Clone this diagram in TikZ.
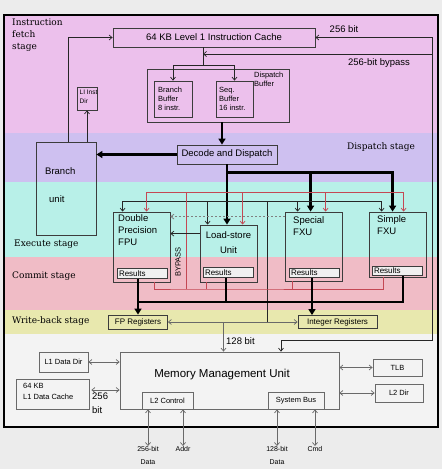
\documentclass[tikz,border=0pt]{standalone}
\usepackage{fontspec}
\setmainfont{Liberation Sans}
\newfontfamily\stagefont{DejaVu Serif}
\usetikzlibrary{arrows.meta, calc, positioning}

\definecolor{pagebg}{RGB}{236,236,236}
\definecolor{fetchbg}{RGB}{236,192,236}
\definecolor{dispbg}{RGB}{206,192,240}
\definecolor{execbg}{RGB}{184,240,232}
\definecolor{commitbg}{RGB}{240,188,198}
\definecolor{wbbg}{RGB}{232,232,174}
\definecolor{membg}{RGB}{243,243,243}
\definecolor{fwdred}{RGB}{196,72,84}
\definecolor{boxline}{RGB}{60,60,60}
\definecolor{memgray}{RGB}{105,105,105}

\newcommand{\bigtxt}{\fontsize{9.5}{12}\selectfont}
\newcommand{\smltxt}{\fontsize{7.5}{9}\selectfont}
\newcommand{\regtxt}{\fontsize{8}{10}\selectfont}
\newcommand{\tinytxt}{\fontsize{7}{13}\selectfont}
\newcommand{\stagetxt}{\stagefont\fontsize{9}{12}\selectfont}

\tikzset{
  box/.style={draw=boxline, line width=0.8pt, inner sep=0pt},
  resbox/.style={box, fill=white!94!black, font=\regtxt, align=left,
    text width=46pt, inner xsep=2pt, minimum height=9.5pt},
  txt/.style={inner sep=0pt, align=left},
  stagelbl/.style={inner sep=0pt, align=left, font=\stagetxt},
  wire/.style={draw=black!85, line width=0.7pt},
  memwire/.style={draw=memgray, line width=0.7pt},
  fwd/.style={draw=fwdred, line width=0.7pt},
  bypassline/.style={draw=gray, line width=0.8pt, dash pattern=on 2pt off 2pt},
  bigline/.style={line width=2.3pt},
  bigarrow/.style={line width=2.3pt, -{Triangle[length=6pt,width=7pt]}}
}

\begin{document}
\begin{tikzpicture}[x=1pt, y=-1pt, >={Straight Barb[length=3pt,width=5pt]}]
	\useasboundingbox[fill=pagebg] (0,0) rectangle (442,469);

	% Stage bands
	\fill[fetchbg] (4,15) rectangle (438,133);
	\fill[dispbg] (4,133) rectangle (438,182);
	\fill[execbg] (4,182) rectangle (438,257);
	\fill[commitbg] (4,257) rectangle (438,310);
	\fill[wbbg] (4,310) rectangle (438,334);
	\fill[membg] (4,334) rectangle (438,427);
	\draw[line width=1.6pt] (4,15) rectangle (438,427);

	% Stage labels
	\node[stagelbl, anchor=north west] at (12,19) {Instruction\\fetch\\stage};
	\node[stagelbl] at (381,147) {Dispatch stage};
	\node[stagelbl, anchor=west] at (14,244) {Execute stage};
	\node[stagelbl, anchor=west] at (12,276) {Commit stage};
	\node[stagelbl, anchor=west] at (12,321) {Write-back stage};

	% Fetch and dispatch
	\node[box, minimum width=202pt, minimum height=19pt, font=\bigtxt] (cache) at (214,37.5) {64 KB Level 1 Instruction Cache};
	\node[box, minimum width=142pt, minimum height=53pt] (dbuf) at (218,95.5) {};
	\node[txt, font=\smltxt, anchor=north west] at (254,72) {Dispatch\\Buffer};
	\node[box, minimum width=38pt, minimum height=36pt] (bbuf) at (173,99) {};
	\node[txt, font=\smltxt, anchor=north west] at (158,87) {Branch\\Buffer\\8 instr.};
	\node[box, minimum width=37pt, minimum height=36pt] (sbuf) at (234.5,99) {};
	\node[txt, font=\smltxt, anchor=north west] at (219,87) {Seq.\\Buffer\\16 instr.};
	\node[box, minimum width=20pt, minimum height=23pt] (instdir) at (87,98.5) {};
	\node[txt, font=\fontsize{6.5}{9}\selectfont, anchor=north west] at (79.5,90) {LI Inst\\Dir};
	\node[box, minimum width=100pt, minimum height=19pt, font=\bigtxt] (decode) at (227,154.5) {Decode and Dispatch};
	\node[box, minimum width=60pt, minimum height=93pt] (branch) at (66,188.5) {};
	\node[txt, font=\bigtxt, anchor=west] at (45,171) {Branch};
	\node[txt, font=\bigtxt, anchor=west] at (49,199) {unit};

	% Execution units
	\node[box, minimum width=57pt, minimum height=70pt] (fpu) at (141.5,247) {};
	\node[txt, font=\bigtxt, anchor=north west] at (118,214) {Double\\Precision\\FPU};
	\node[box, minimum width=57pt, minimum height=57pt] (lsu) at (228.5,253.5) {};
	\node[txt, font=\fontsize{9.5}{15}\selectfont, align=center, anchor=north] at (228.5,231) {Load-store\\Unit};
	\node[box, minimum width=57pt, minimum height=69pt] (sfxu) at (313.5,246.5) {};
	\node[txt, font=\bigtxt, anchor=north west] at (293,216) {Special\\FXU};
	\node[box, minimum width=57pt, minimum height=65pt] (xfxu) at (397.5,244.5) {};
	\node[txt, font=\bigtxt, anchor=north west] at (377,215) {Simple\\FXU};
	\node[resbox] (fpres) at (142,273.5) {Results};
	\node[resbox] (lsres) at (228,272.5) {Results};
	\node[resbox] (sfres) at (314,273) {Results};
	\node[resbox] (xres) at (397,271) {Results};
	\node[font=\fontsize{7.5}{9}\selectfont, rotate=90, inner sep=0pt] at (178,262) {BYPASS};

	% Registers
	\node[box, minimum width=59pt, minimum height=14pt, font=\regtxt] (fpreg) at (138,322) {FP Registers};
	\node[box, minimum width=79pt, minimum height=13pt, font=\regtxt] (intreg) at (337.5,322) {Integer Registers};

	% Memory subsystem
	\node[box, draw=memgray, minimum width=219pt, minimum height=57pt] (mmu) at (229.5,380.5) {};
	\node[font=\fontsize{11.5}{14}\selectfont, inner sep=0pt] at (222,375) {Memory Management Unit};
	\node[box, draw=memgray, minimum width=51pt, minimum height=17pt, font=\smltxt] (l2ctl) at (167.5,400.5) {L2 Control};
	\node[box, draw=memgray, minimum width=56pt, minimum height=17pt, font=\smltxt] (sysbus) at (296,400.5) {System Bus};
	\node[box, draw=memgray, minimum width=49pt, minimum height=20pt, font=\smltxt] (l1ddir) at (63.5,362) {L1 Data Dir};
	\node[box, draw=memgray, minimum width=73pt, minimum height=30pt] (l1dcache) at (52.5,394) {};
	\node[txt, font=\fontsize{7.5}{11}\selectfont, anchor=north west] at (23,383) {64 KB\\L1 Data Cache};
	\node[box, draw=memgray, minimum width=49pt, minimum height=17pt, font=\smltxt] (tlb) at (397.5,367.5) {TLB};
	\node[box, draw=memgray, minimum width=48pt, minimum height=18pt, font=\smltxt] (l2dir) at (399,393) {L2 Dir};
	\node[txt, font=\tinytxt, align=center, anchor=north] (dat256) at (148,446) {256-bit\\Data};
	\node[txt, font=\tinytxt, anchor=north] (addr) at (183,446) {Addr};
	\node[txt, font=\tinytxt, align=center, anchor=north] (dat128) at (277,446) {128-bit\\Data};
	\node[txt, font=\tinytxt, anchor=north] (cmd) at (315,446) {Cmd};

	% Fetch paths
	\coordinate (split) at (203,65);
	\coordinate (bypR) at (432,54);
	\coordinate (memR) at (432,340);
	\coordinate (bus256) at (281,340);
	\draw[wire] (cache.south -| split) -- (split);
	\draw[wire,->] (split) -| (bbuf.north);
	\draw[wire,->] (split) -| (sbuf.north);
	\draw[wire,->] (bypR) -- (bypR -| split);
	\node[font=\bigtxt, inner sep=0pt] at (379,63) {256-bit bypass};
	\draw[wire,<->] (cache.east) -| (memR) -- (bus256) -- (bus256 |- mmu.north);
	\node[font=\bigtxt, inner sep=0pt] at (344,29) {256 bit};
	\draw[wire,->] ([xshift=2pt]branch.north) |- (cache.west);
	\draw[wire,->] (instdir.south |- branch.north) -- (instdir.south);

	% Dispatch paths
	\coordinate (dsp) at ($(decode.south)+(0,8)$);
	\draw[bigarrow] ([xshift=-5pt]decode.north |- dbuf.south) -- ([xshift=-5pt]decode.north);
	\draw[bigarrow] (decode.west) -- (decode.west -| branch.east);
	\draw[bigarrow] (decode.south) -- (decode.south |- lsu.north);
	\draw[bigarrow] (dsp) -| ([xshift=26pt]sfxu.north west);
	\draw[bigarrow] (dsp) -| ([xshift=24pt]xfxu.north west);

	% Operand bus from the registers
	\coordinate (opbus) at (267,201);
	\draw[wire] (opbus |- fpreg.east) -- (opbus);
	\draw[wire,->] (opbus) -| ([xshift=10pt]fpu.north west);
	\draw[wire,->] (opbus) -| ([xshift=8pt]lsu.north west);
	\draw[wire,->] (opbus) -| ([xshift=13pt]sfxu.north west);
	\draw[wire,->] (opbus) -| ([xshift=13pt]xfxu.north west);

	% Result forwarding
	\coordinate (rtop) at (186,192);
	\coordinate (rbot) at (186,289);
	\draw[fwd] ([xshift=42pt]fpu.south west) |- (rbot) -| ([xshift=15pt]xfxu.south west);
	\draw[fwd] ([xshift=7pt]lsu.south west) -- ([xshift=7pt]lsu.south west |- rbot);
	\draw[fwd] ([xshift=8pt]sfxu.south west) -- ([xshift=8pt]sfxu.south west |- rbot);
	\draw[fwd] (rbot) -- (rtop);
	\draw[fwd,->] (rtop) -| ([xshift=34pt]fpu.north west);
	\draw[fwd,->] (rtop) -| ([xshift=43pt]lsu.north west);
	\draw[fwd,->] (rtop) -| ([xshift=41pt]sfxu.north west);
	\draw[fwd,->] (rtop) -| ([xshift=35pt]xfxu.north west);

	% Bypasses into the FPU
	\draw[bypassline,->] ([yshift=-5pt]sfxu.north west) -- ([yshift=-5pt]sfxu.north west -| fpu.east);
	\draw[wire,->] ([yshift=-9pt]lsu.north west) -- ([yshift=-9pt]lsu.north west -| fpu.east);

	% Write-back
	\coordinate (wbus) at (0,302);
	\draw[bigarrow] (fpres.south -| fpreg.north) -- (fpreg.north);
	\draw[bigline] (fpreg.north |- wbus) -| ([xshift=6pt]xres.south);
	\draw[bigline] ([xshift=-2pt]lsres.south) -- ([xshift=-2pt]lsres.south |- wbus);
	\draw[bigarrow] ([xshift=-2pt]sfres.south) -- ([xshift=-2pt]sfres.south |- intreg.north);
	\draw[memwire,<->] (fpreg.east) -- (intreg.west);
	\draw[memwire,->] ([xshift=-6pt]mmu.north |- fpreg.east) -- ([xshift=-6pt]mmu.north);
	\node[font=\bigtxt, inner sep=0pt, anchor=west] at (226,341) {128 bit};

	% Memory links
	\coordinate (dc) at ([xshift=2pt,yshift=4pt]l1dcache.east);
	\draw[memwire,<->] (l1ddir.east) -- (l1ddir.east -| mmu.west);
	\draw[memwire,<->] (dc) -- (dc -| mmu.west);
	\node[txt, font=\fontsize{9.5}{14}\selectfont, anchor=north west] at (92,393) {256\\bit};
	\draw[memwire,<->] (tlb.west -| mmu.east) -- (tlb.west);
	\draw[memwire,<->] (l2dir.west -| mmu.east) -- (l2dir.west);
	\draw[memwire,<->] (dat256.north |- l2ctl.south) -- (dat256.north);
	\draw[memwire,<->] (addr.north |- l2ctl.south) -- (addr.north);
	\draw[memwire,<->] (dat128.north |- sysbus.south) -- (dat128.north);
	\draw[memwire,<->] (cmd.north |- sysbus.south) -- (cmd.north);
\end{tikzpicture}
\end{document}
